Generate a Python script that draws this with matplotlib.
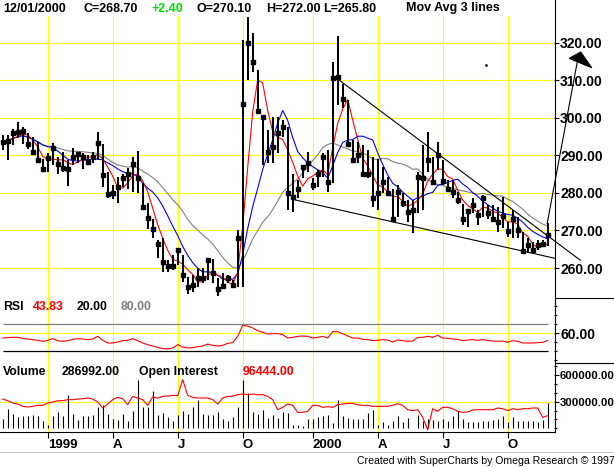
import numpy as np
import pandas as pd
import matplotlib
matplotlib.use("Agg")
import matplotlib.pyplot as plt
from matplotlib.lines import Line2D
from matplotlib.patches import Polygon

plt.rcParams['font.family'] = ['Liberation Sans', 'DejaVu Sans']
plt.rcParams['font.weight'] = 'bold'

# weekly bars, index 0..109 (last bar = 12/01/2000)
highs = [295.4, 295.5, 297.0, 298.8, 297.5, 296.1, 295.0, 293.7, 289.2, 290.6,
         293.4, 289.7, 291.0, 288.8, 291.9, 290.8, 290.6, 290.1, 291.0, 296.4,
         293.2, 285.7, 282.1, 284.4, 285.2, 286.6, 289.7, 291.2, 282.6, 277.4,
         273.0, 267.5, 267.9, 262.1, 263.5, 265.0, 263.5, 257.7, 258.1, 259.9,
         259.9, 262.6, 262.3, 257.2, 258.6, 258.1, 256.8, 270.1, 320.8, 327.0,
         322.7, 312.8, 300.3, 296.8, 300.3, 300.3, 299.5, 297.7, 285.2, 283.5,
         287.5, 291.0, 283.9, 286.1, 290.6, 291.5, 315.0, 321.9, 309.2, 304.8,
         294.1, 293.7, 292.8, 291.5, 289.7, 289.2, 287.0, 284.4, 281.2, 282.1,
         279.9, 278.1, 278.1, 285.7, 292.8, 296.4, 289.7, 293.7, 288.8, 283.5,
         283.5, 280.4, 277.2, 275.5, 278.6, 275.5, 279.5, 276.8, 276.8, 276.4,
         279.0, 272.3, 275.5, 273.7, 269.7, 267.9, 267.0, 267.5, 267.5, 272.0]
lows = [291.5, 288.8, 292.8, 294.6, 293.2, 291.6, 290.1, 288.8, 285.7, 285.7,
        287.5, 285.0, 285.7, 281.9, 287.5, 287.9, 286.3, 287.5, 287.9, 288.8,
        281.7, 278.6, 278.3, 277.4, 281.5, 281.2, 280.4, 280.1, 275.6, 270.3,
        267.9, 262.6, 259.0, 259.0, 259.5, 260.8, 256.4, 253.1, 253.7, 255.0,
        255.9, 256.8, 255.9, 252.4, 254.6, 255.9, 254.6, 255.0, 255.0, 310.1,
        312.3, 301.2, 287.5, 287.9, 287.9, 290.6, 295.0, 275.5, 275.0, 278.6,
        283.9, 285.7, 280.8, 281.7, 284.4, 280.4, 282.6, 303.5, 302.6, 293.2,
        287.9, 287.9, 284.8, 283.9, 276.4, 275.5, 279.9, 279.9, 272.8, 273.7,
        276.4, 272.3, 269.4, 274.6, 275.5, 285.7, 282.6, 286.1, 282.1, 280.4,
        278.6, 277.2, 271.5, 271.0, 274.6, 271.5, 273.7, 273.2, 272.3, 269.7,
        270.6, 268.3, 267.9, 267.9, 264.4, 264.1, 264.4, 264.8, 265.7, 265.8]
closes = [293.7, 293.9, 296.1, 296.2, 296.5, 293.2, 290.8, 288.8, 286.3, 289.4,
          291.9, 287.6, 286.6, 286.4, 289.7, 290.4, 289.7, 288.4, 289.7, 293.4,
          284.8, 279.7, 280.1, 281.5, 283.9, 285.2, 287.7, 283.9, 276.2, 273.4,
          270.4, 266.3, 261.7, 260.6, 260.5, 264.8, 258.1, 254.8, 255.5, 257.2,
          257.4, 262.1, 258.6, 254.3, 255.3, 257.2, 255.5, 267.9, 303.7, 320.1,
          314.9, 301.9, 300.3, 291.0, 292.4, 295.9, 297.7, 280.1, 279.0, 281.2,
          287.0, 287.9, 282.0, 285.0, 289.7, 283.0, 310.6, 310.8, 305.1, 293.2,
          288.8, 290.1, 285.0, 285.0, 278.6, 279.9, 282.8, 280.0, 273.2, 280.4,
          277.4, 274.8, 275.5, 284.4, 283.9, 288.8, 283.0, 290.1, 283.3, 281.1,
          280.4, 278.0, 273.0, 275.3, 276.8, 274.1, 278.6, 274.6, 273.2, 272.3,
          273.9, 269.9, 273.0, 270.1, 264.6, 266.1, 264.8, 266.1, 266.3, 268.7]

rsi = [49.2, 50.0, 50.7, 50.7, 48.5, 47.0, 45.6, 44.1, 41.9, 44.1,
       47.8, 43.4, 41.9, 43.4, 46.3, 47.8, 47.0, 45.6, 47.0, 52.9,
       44.1, 38.2, 38.2, 40.4, 43.4, 44.1, 47.8, 43.4, 38.2, 34.6,
       31.6, 28.7, 25.8, 25.1, 27.3, 34.6, 29.5, 27.3, 28.0, 30.2,
       31.6, 36.0, 33.1, 31.6, 33.1, 37.5, 39.0, 52.9, 77.0, 75.6,
       71.2, 65.3, 61.7, 58.0, 58.8, 59.0, 56.6, 49.2, 50.7, 52.9,
       53.6, 52.9, 49.2, 50.7, 52.9, 49.2, 63.2, 63.2, 58.8, 53.6,
       49.2, 49.2, 46.3, 45.6, 43.4, 44.1, 45.6, 44.8, 40.4, 44.8,
       43.4, 41.9, 42.6, 50.7, 50.7, 52.9, 50.7, 55.1, 49.2, 48.5,
       47.0, 46.3, 43.4, 44.8, 45.6, 44.1, 45.6, 44.1, 42.6, 41.9,
       42.6, 39.7, 43.4, 41.9, 38.2, 38.2, 38.2, 39.0, 39.7, 43.83]

volume = [105000, 217000, 161000, 124000, 135000, 135000, 150000, 139000, 79000, 41000,
          135000, 180000, 135000, 375000, 161000, 94000, 135000, 135000, 154000, 244000,
          262000, 161000, 105000, 94000, 161000, 79000, 199000, 544000, 244000, 236000,
          416000, 150000, 169000, 124000, 79000, 150000, 199000, 161000, 244000, 319000,
          161000, 154000, 150000, 180000, 105000, 79000, 131000, 244000, 544000, 394000,
          188000, 161000, 206000, 116000, 154000, 112000, 180000, 169000, 38000, 41000,
          22000, 105000, 105000, 124000, 135000, 154000, 56000, 319000, 135000, 116000,
          105000, 105000, 105000, 172000, 206000, 41000, 75000, 38000, 86000, 135000,
          68000, 116000, 4000, 154000, 86000, 105000, 94000, 86000, 105000, 79000,
          142000, 199000, 105000, 68000, 68000, 68000, 79000, 86000, 94000, 105000,
          135000, 75000, 131000, 86000, 86000, 79000, 79000, 68000, 94000, 286992]

open_interest = [131400, 127900, 123000, 120900, 116000, 114600, 116000, 118100, 118100, 123000,
                 125100, 127900, 127900, 130000, 130000, 131400, 132100, 133500, 131400, 125100,
                 112500, 120900, 130000, 134900, 132100, 119500, 137000, 133500, 130000, 118100,
                 135600, 133500, 137000, 137700, 139100, 138400, 172000, 139100, 134900, 133500,
                 133500, 133500, 130000, 120900, 133500, 137000, 137000, 140500, 141900, 140500,
                 141900, 140500, 140500, 137000, 130000, 109000, 113900, 120900, 118100, 103400,
                 103400, 105500, 118100, 118100, 113900, 115300, 113900, 119500, 120900, 122300,
                 122300, 119500, 118100, 118100, 116000, 116000, 116000, 116000, 118100, 121600,
                 118100, 109000, 106900, 109000, 92900, 67000, 111100, 105500, 113900, 113900,
                 111100, 105500, 103400, 104100, 108300, 109000, 109000, 109000, 109000, 112500,
                 111100, 106900, 111100, 109000, 111100, 111100, 112500, 112500, 92900, 96444]

quarter_idx = [9, 22, 35, 48, 62, 75, 88, 101]
quarter_labels = ['1999', 'A', 'J', 'O', '2000', 'A', 'J', 'O']

# hand-drawn trendlines (bar index, price)
upper_line = ([67.1, 115.5], [310.3, 262.1])
lower_line = ([58.0, 110.4], [278.3, 262.6])
arrow_line = ([108.9, 115.1], [271.9, 316.3])
arrow_head = [(113.3, 315.9), (115.6, 317.6), (117.8, 313.4)]

idx = np.arange(len(closes))
close_s = pd.Series(closes)
ma_fast = close_s.rolling(4, min_periods=1).mean()
ma_mid = close_s.rolling(9, min_periods=1).mean()
ma_slow = close_s.rolling(18, min_periods=1).mean()

W, H = 614, 467
YEL = '#ffff00'


def rect(x0, y0, x1, y1):
    return [x0 / W, 1 - y1 / H, (x1 - x0) / W, (y1 - y0) / H]


fig = plt.figure(figsize=(W / 100, H / 100), dpi=100)
ax_p = fig.add_axes(rect(0, 16, 554, 298))
ax_r = fig.add_axes(rect(0, 298, 554, 363), sharex=ax_p)
ax_v = fig.add_axes(rect(0, 363, 554, 432), sharex=ax_p)
ax_oi = fig.add_axes(rect(0, 363, 554, 432), sharex=ax_p)

for ax in (ax_p, ax_r, ax_v):
    for s in ax.spines.values():
        s.set_visible(False)
    ax.set_facecolor('none')
    for q in quarter_idx:
        ax.axvline(q, color=YEL, lw=0.8, zorder=0)
    ax.yaxis.tick_right()
    ax.tick_params(axis='y', which='major', length=3.6, width=0.8, pad=0.8,
                   labelsize=10, colors='black')
    ax.tick_params(axis='y', which='minor', length=2.2, width=0.8)
    ax.tick_params(axis='x', which='both', bottom=False, labelbottom=False)

ax_p.set_xlim(-0.54, 110.26)

# price panel
ax_p.set_ylim(252.0, 327.2)
price_ticks = [260, 270, 280, 290, 300, 310, 320]
for v in price_ticks:
    ax_p.axhline(v, color=YEL, lw=0.8, zorder=0)
ax_p.set_yticks(price_ticks, [f'{v:.2f}' for v in price_ticks])
ax_p.plot(idx, ma_slow, color='#808080', lw=0.8, zorder=2)
ax_p.plot(idx, ma_mid, color='#0000ff', lw=0.8, zorder=2)
ax_p.plot(idx, ma_fast, color='#ff0000', lw=0.8, zorder=2)
ax_p.vlines(idx, lows, highs, color='black', lw=1.45, zorder=3)
ax_p.plot(idx, closes, 's', color='black', ms=2.3, zorder=3)
for xs, ys in (upper_line, lower_line, arrow_line):
    ax_p.plot(xs, ys, color='black', lw=0.8, clip_on=False, zorder=4)
ax_p.add_patch(Polygon(arrow_head, closed=True, facecolor='black', edgecolor='black',
                       lw=0.8, clip_on=False, zorder=4))
ax_p.plot([96.6], [314.1], 's', color='black', ms=0.8, zorder=4)

# RSI panel
ax_r.set_ylim(-5.7, 137.1)
ax_r.axhline(60, color=YEL, lw=0.8, zorder=0)
ax_r.hlines(80, 0, 109, color='#808080', lw=0.9, zorder=1)
ax_r.hlines(20, 0, 109, color='black', lw=0.9, zorder=1)
ax_r.plot(idx, rsi, color='#ff0000', lw=0.8, zorder=2)
ax_r.set_yticks([60], ['60.00'])
ax_r.set_yticks([0, 20, 40, 80, 100, 120], minor=True)

# volume / open interest panel
ax_v.set_ylim(-40450, 734800)
ax_v.axhline(300000, color=YEL, lw=0.8, zorder=0)
ax_v.vlines(idx, 0, volume, color='black', lw=0.8, zorder=2)
ax_v.set_yticks([300000, 600000], ['300000.00', '600000.00'])
ax_v.set_yticks(np.arange(0, 700001, 100000), minor=True)
ax_v.tick_params(axis='y', which='major', labelsize=8.2, pad=0.3)
ax_v.spines['bottom'].set_visible(True)
ax_v.spines['bottom'].set_linewidth(0.8)
ax_v.tick_params(axis='x', which='major', bottom=True, labelbottom=True,
                 length=4.3, width=0.8, pad=1.0, labelsize=9.5)
ax_v.set_xticks(quarter_idx, quarter_labels)
for lab in ax_v.get_xticklabels():
    lab.set_ha('left')

ax_oi.set_ylim(62144, 207044)
ax_oi.plot(idx, open_interest, color='#ff0000', lw=0.8, zorder=3)
ax_oi.axis('off')

# frame lines
fig.add_artist(Line2D([554.5 / W] * 2, [1, 1 - 432 / H], color='black', lw=0.8))
for yy in (298, 363):
    fig.add_artist(Line2D([554.5 / W, 1], [1 - yy / H] * 2, color='black', lw=0.8))
fig.add_artist(Line2D([0, 1], [1 - 452 / H] * 2, color='#c8c8c8', lw=0.8))


def label(x, y, s, color='black', size=9.0, weight='bold'):
    fig.text(x / W, 1 - y / H, s, color=color, fontsize=size,
             fontweight=weight, ha='left', va='center')


label(3, 8.5, '12/01/2000')
label(83, 8.5, 'C=268.70')
label(152, 8.5, '+2.40', color='#00e000')
label(197, 8.5, 'O=270.10')
label(266, 8.5, 'H=272.00')
label(323, 8.5, 'L=265.80')
label(406, 8.5, 'Mov Avg 3 lines')

label(3, 307, 'RSI', size=8.8)
label(33, 307, '43.83', color='#ff0000', size=8.8)
label(77, 307, '20.00', size=8.8)
label(121, 307, '80.00', color='#808080', size=8.8)

label(3, 372, 'Volume', size=8.8)
label(62, 372, '286992.00', size=8.8)
label(139, 372, 'Open Interest', size=8.8)
label(243, 372, '96444.00', color='#ff0000', size=8.8)

label(357, 461, 'Created with SuperCharts by Omega Research \u00a9 1997',
      size=7.6, weight='normal')

fig.savefig('out.png', dpi=100)
